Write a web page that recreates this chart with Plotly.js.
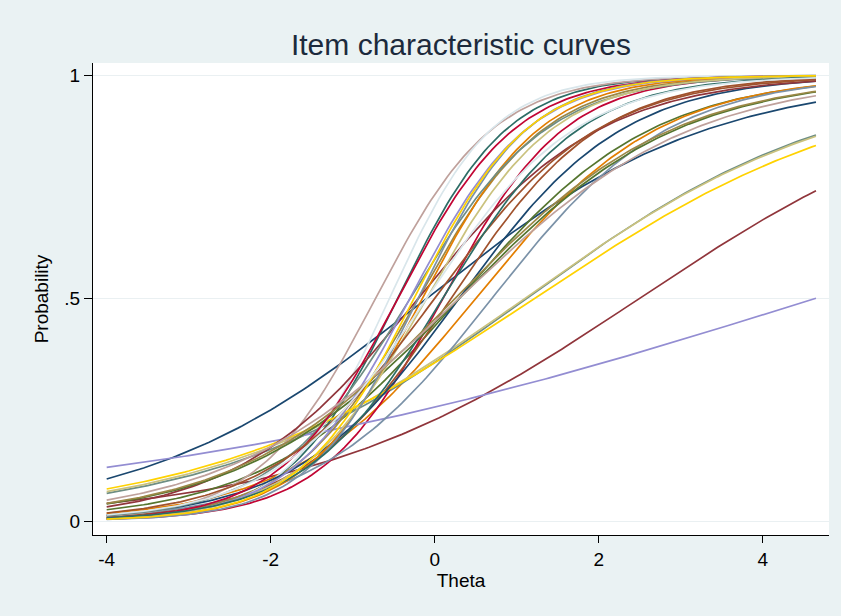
<!DOCTYPE html>
<html>
<head>
<meta charset="utf-8">
<script src="https://cdn.plot.ly/plotly-3.0.1.min.js"></script>
<style>html,body{margin:0;padding:0;background:#eaf2f3;}#chart{width:841px;height:616px;}</style>
</head>
<body>
<div id="chart"></div>
<script>
// Item labels and 2PL item parameters
const items = ['q1','q2','q3','q4','q5','q6','q7','q8','q9','q10','q11','q12','q13','q14','q15',
               'q16','q17','q18','q19','q20','q21','q22','q23','q24','q25','q26','q27','q28','q29','q30'];
const discrimination = [0.58,0.49,0.85,0.90,0.53,1.35,0.23,0.52,1.10,0.93,1.50,1.30,1.40,0.49,1.60,
                        1.00,0.90,0.75,1.40,1.20,1.40,1.40,1.30,1.00,1.50,1.20,0.75,0.70,1.45,1.10];
const difficulty     = [-0.10,2.50,0.30,0.50,1.12,0.10,4.65,1.10,0.20,0.70,-0.45,-0.20,-0.72,1.22,-0.55,
                        0.30,-0.20,0.30,-0.15,-0.30,-0.45,-0.30,-0.10,0.00,-0.20,0.10,0.25,0.30,-0.25,-0.10];
const thetaStart = -4, thetaEnd = 4.65, thetaStep = 0.05;
const xTicks = [-4,-2,0,2,4];
const yTicks = [0,0.5,1];
const yTickText = ['0','.5','1'];

const palette = ['#1a476f','#90353b','#55752f','#e37e00','#6e8e84','#c10534','#938dd2','#cac27e',
                 '#a0522d','#7b92a8','#2d6d66','#9c8847','#bfa19c','#ffd200','#d9e6eb'];

const theta = [];
for (let t = thetaStart; t <= thetaEnd + 1e-9; t += thetaStep) theta.push(+t.toFixed(4));

const traces = items.map((name, i) => ({
  type: 'scatter', mode: 'lines', name: name,
  x: theta,
  y: theta.map(t => 1 / (1 + Math.exp(-discrimination[i] * (t - difficulty[i])))),
  line: {color: palette[i % palette.length], width: 1.7},
  hoverinfo: 'x+y+name'
}));

const font = 'Liberation Sans, Arial, sans-serif';
const layout = {
  width: 841, height: 616,
  paper_bgcolor: '#eaf2f3', plot_bgcolor: '#ffffff',
  margin: {l: 93, r: 12, t: 63, b: 81},
  showlegend: false,
  title: {text: 'Item characteristic curves', font: {family: font, size: 30, color: '#1c2a3c'},
          x: 0.5, xref: 'paper', xanchor: 'center', y: 0.928, yref: 'container', yanchor: 'middle'},
  xaxis: {range: [-4.167, 4.809], tickvals: xTicks, ticktext: xTicks.map(String),
          showgrid: false, zeroline: false, showline: true, linecolor: '#000', linewidth: 1,
          ticks: 'outside', ticklen: 7, tickcolor: '#000', tickfont: {family: font, size: 19, color: '#000'},
          title: {text: 'Theta', font: {family: font, size: 19, color: '#000'}, standoff: 2}},
  yaxis: {range: [-0.0314, 1.028], tickvals: yTicks, ticktext: yTickText,
          showgrid: true, gridcolor: '#eaf0f2', gridwidth: 1, zeroline: false,
          showline: true, linecolor: '#000', linewidth: 1,
          ticks: 'outside', ticklen: 8, tickcolor: '#000', tickfont: {family: font, size: 19, color: '#000'},
          title: {text: 'Probability', font: {family: font, size: 19, color: '#000'}, standoff: 10}}
};
Plotly.newPlot('chart', traces, layout, {displayModeBar: false, staticPlot: true});
</script>
</body>
</html>
